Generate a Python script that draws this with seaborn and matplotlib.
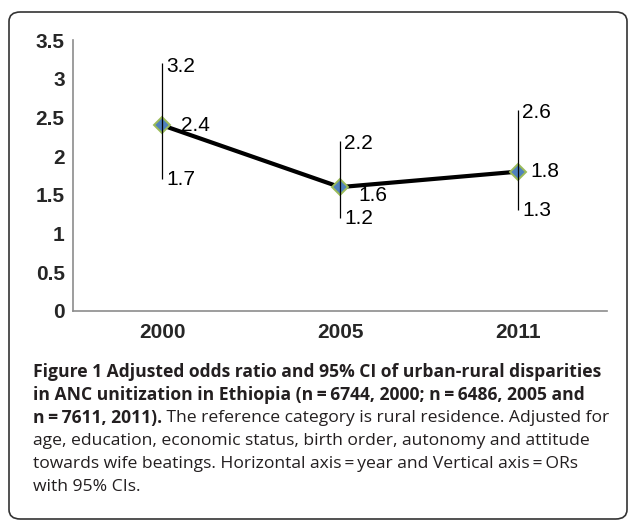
import numpy as np
import matplotlib
matplotlib.use("Agg")
import matplotlib.pyplot as plt
import seaborn as sns
from matplotlib.patches import FancyBboxPatch

# ── data ─────────────────────────────────────────────
years = ["2000", "2005", "2011"]
odds_ratio = [2.4, 1.6, 1.8]
ci_low = [1.7, 1.2, 1.3]
ci_high = [3.2, 2.2, 2.6]

yticks = [0, 0.5, 1, 1.5, 2, 2.5, 3, 3.5]
ytick_labels = ["0", "0.5", "1", "1.5", "2", "2.5", "3", "3.5"]

caption_bold_1 = "Figure 1 Adjusted odds ratio and 95% CI of urban-rural disparities"
caption_bold_2 = "in ANC unitization in Ethiopia (n\u2009=\u20096744, 2000; n\u2009=\u20096486, 2005 and"
caption_bold_3 = "n\u2009=\u20097611, 2011)."
caption_reg_3 = " The reference category is rural residence. Adjusted for"
caption_reg_4 = "age, education, economic status, birth order, autonomy and attitude"
caption_reg_5 = "towards wife beatings. Horizontal axis\u2009=\u2009year and Vertical axis\u2009=\u2009ORs"
caption_reg_6 = "with 95% CIs."

sns.set_style("white")
plt.rcParams["font.family"] = ["Liberation Sans", "DejaVu Sans"]

W, H = 629, 521
fig = plt.figure(figsize=(W / 100, H / 100), dpi=100)
ax = fig.add_axes([73 / W, 1 - 311 / H, (607 - 73) / W, (311 - 40) / H])

# main line with diamond markers
sns.pointplot(x=years, y=odds_ratio, color="black", markers="D",
              linestyles="-", errorbar=None, ax=ax, zorder=2)
for ln in ax.lines:
    ln.set_linewidth(3.0)
    ln.set_markersize(8)
    ln.set_markerfacecolor("#4F81BD")
    ln.set_markeredgecolor("#9BBB59")
    ln.set_markeredgewidth(1.4)

# confidence intervals (no caps)
xpos = np.arange(len(years))
ax.vlines(xpos, ci_low, ci_high, color="black", linewidth=0.9, zorder=3)

# value labels
lab_font = dict(fontsize=15, family="Liberation Sans", color="black")
point_offsets = [(14, 0), (13, -6), (9, 0)]
for i in range(len(years)):
    ax.annotate(f"{ci_high[i]:.1f}", (xpos[i], ci_high[i]), xytext=(3, -2),
                textcoords="offset points", ha="left", va="center", **lab_font)
    ax.annotate(f"{ci_low[i]:.1f}", (xpos[i], ci_low[i]), xytext=(3, 0),
                textcoords="offset points", ha="left", va="center", **lab_font)
    ax.annotate(f"{odds_ratio[i]:.1f}", (xpos[i], odds_ratio[i]),
                xytext=point_offsets[i], textcoords="offset points",
                ha="left", va="center", **lab_font)

ax.set_ylim(0, 3.5)
ax.set_xlim(-0.5, len(years) - 0.5)
ax.set_yticks(yticks)
ax.set_yticklabels(ytick_labels, fontsize=15, fontweight="bold")
ax.set_xticks(xpos)
ax.set_xticklabels(years, fontsize=15, fontweight="bold")
ax.tick_params(axis="y", length=0, pad=6)
ax.tick_params(axis="x", length=0, pad=9)
ax.set_xlabel("")
ax.set_ylabel("")
for side in ["top", "right"]:
    ax.spines[side].set_visible(False)
for side in ["left", "bottom"]:
    ax.spines[side].set_color("#8c8c8c")
    ax.spines[side].set_linewidth(1.2)

# caption
cap_font = ["Open Sans", "DejaVu Sans"]
cap_size = 12.6
x0 = 33 / W
line_y = [372, 395, 418, 441, 464, 487]
fig.text(x0, 1 - line_y[0] / H, caption_bold_1, fontsize=cap_size,
         fontweight="bold", family=cap_font, va="center", color="#231f20")
fig.text(x0, 1 - line_y[1] / H, caption_bold_2, fontsize=cap_size,
         fontweight="bold", family=cap_font, va="center", color="#231f20")
t3 = fig.text(x0, 1 - line_y[2] / H, caption_bold_3, fontsize=cap_size,
              fontweight="bold", family=cap_font, va="center", color="#231f20")
ax.annotate(caption_reg_3, xy=(1, 0.5), xycoords=t3, fontsize=cap_size,
            family=cap_font, va="center", ha="left", color="#231f20",
            annotation_clip=False)
for k, txt in zip([3, 4, 5], [caption_reg_4, caption_reg_5, caption_reg_6]):
    fig.text(x0, 1 - line_y[k] / H, txt, fontsize=cap_size,
             family=cap_font, va="center", color="#231f20")

# rounded border
box = FancyBboxPatch((9 / W, 2 / H), (627 - 9) / W, (509 - 2) / H,
                     boxstyle="round,pad=0,rounding_size=0.018",
                     transform=fig.transFigure, fill=False,
                     edgecolor="#333333", linewidth=1.2)
fig.patches.append(box)

fig.savefig("out.png", dpi=100)
